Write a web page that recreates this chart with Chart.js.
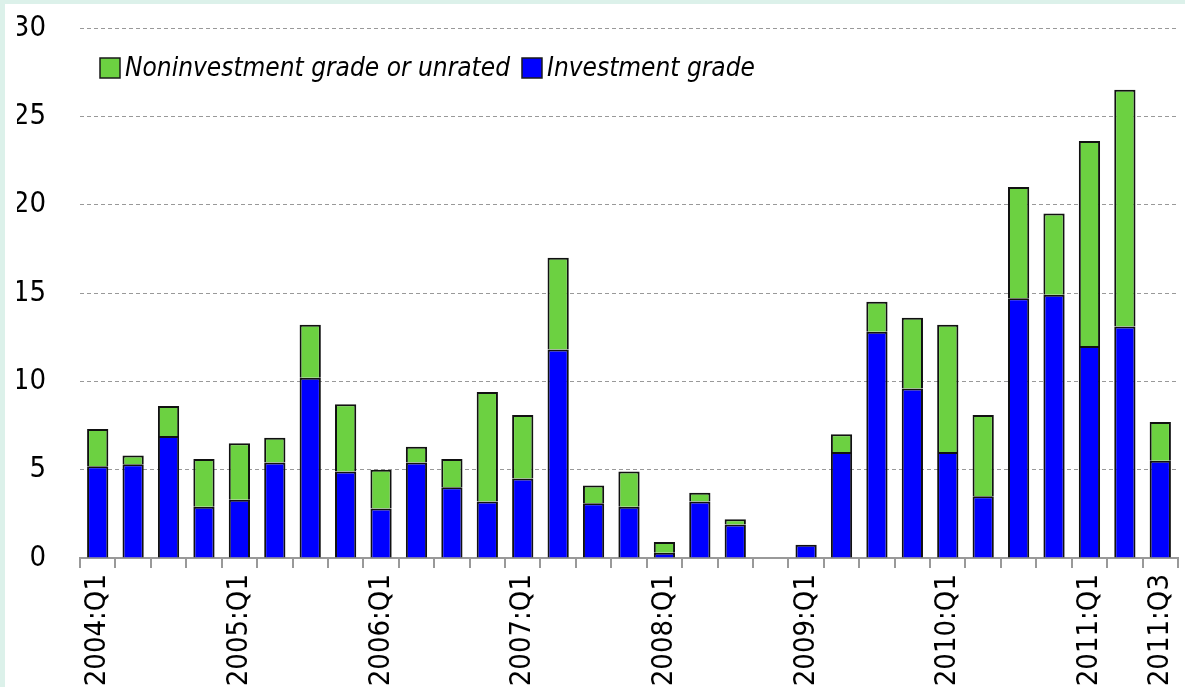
<!DOCTYPE html>
<html>
<head>
<meta charset="utf-8">
<script src="https://cdn.jsdelivr.net/npm/chart.js@4"></script>
<style>
  html, body { margin: 0; padding: 0; background: #dcf1ea; }
  #wrap { position: absolute; left: 5px; top: 4px; width: 1180px; height: 683px; background: #fff; }
</style>
</head>
<body>
<div id="wrap"><canvas id="chart"></canvas></div>
<script>
// quarters 2004:Q1 .. 2011:Q3
const quarters = [
  '2004:Q1','2004:Q2','2004:Q3','2004:Q4',
  '2005:Q1','2005:Q2','2005:Q3','2005:Q4',
  '2006:Q1','2006:Q2','2006:Q3','2006:Q4',
  '2007:Q1','2007:Q2','2007:Q3','2007:Q4',
  '2008:Q1','2008:Q2','2008:Q3','2008:Q4',
  '2009:Q1','2009:Q2','2009:Q3','2009:Q4',
  '2010:Q1','2010:Q2','2010:Q3','2010:Q4',
  '2011:Q1','2011:Q2','2011:Q3'
];
// only these quarters get a label on the x axis
const shownLabels = ['2004:Q1','2005:Q1','2006:Q1','2007:Q1','2008:Q1','2009:Q1','2010:Q1','2011:Q1','2011:Q3'];

const investment = [
  5.2, 5.3, 6.9, 2.9,
  3.3, 5.4, 10.2, 4.9,
  2.8, 5.4, 4.0, 3.2,
  4.5, 11.8, 3.1, 2.9,
  0.3, 3.2, 1.9, null,
  0.75, 6.0, 12.8, 9.6,
  6.0, 3.5, 14.7, 14.9,
  12.0, 13.1, 5.5
];
const noninvestment = [
  2.1, 0.5, 1.7, 2.7,
  3.2, 1.4, 3.0, 3.8,
  2.2, 0.9, 1.6, 6.2,
  3.6, 5.2, 1.0, 2.0,
  0.6, 0.5, 0.3, null,
  null, 1.0, 1.7, 4.0,
  7.2, 4.6, 6.3, 4.6,
  11.6, 13.4, 2.2
];
const yTicks = [0, 5, 10, 15, 20, 25, 30];

const FONT = "'Liberation Sans Narrow', 'DejaVu Sans Condensed', sans-serif";
const BLUE = '#0000ff';
const GREEN = '#6cd141';

// legend drawn inside the plot, green item first
const insideLegend = {
  id: 'insideLegend',
  afterDraw(chart) {
    const ctx = chart.ctx;
    const area = chart.chartArea;
    const items = chart.data.datasets.slice().reverse();
    let x = area.left + 20;
    const y = area.top + 40;
    ctx.save();
    ctx.font = 'italic 26px ' + FONT;
    ctx.textBaseline = 'middle';
    items.forEach(ds => {
      ctx.fillStyle = ds.backgroundColor;
      ctx.fillRect(x, y - 10, 20, 20);
      ctx.lineWidth = 1.5;
      ctx.strokeStyle = '#1a1a1a';
      ctx.strokeRect(x, y - 10, 20, 20);
      ctx.fillStyle = '#000';
      ctx.fillText(ds.label, x + 25, y + 1);
      x += 25 + ctx.measureText(ds.label).width + 12;
    });
    ctx.restore();
  }
};

new Chart(document.getElementById('chart').getContext('2d'), {
  type: 'bar',
  data: {
    labels: quarters,
    datasets: [
      {
        label: 'Investment grade',
        data: investment,
        backgroundColor: BLUE,
        borderColor: '#111',
        borderWidth: 2,
        barPercentage: 0.6,
        categoryPercentage: 1
      },
      {
        label: 'Noninvestment grade or unrated',
        data: noninvestment,
        backgroundColor: GREEN,
        borderColor: '#111',
        borderWidth: 2,
        barPercentage: 0.6,
        categoryPercentage: 1
      }
    ]
  },
  options: {
    responsive: true,
    maintainAspectRatio: false,
    animation: false,
    layout: { padding: { left: 12, right: 7, top: 24, bottom: 0 } },
    plugins: {
      legend: { display: false },
      tooltip: { enabled: false }
    },
    scales: {
      x: {
        stacked: true,
        afterFit: axis => { axis.height = 129; axis.paddingLeft = 0; axis.paddingRight = 0; },
        grid: {
          display: true,
          offset: true,
          drawOnChartArea: false,
          drawTicks: true,
          tickLength: 10,
          color: '#999',
          lineWidth: 2
        },
        border: { display: true, color: '#999', width: 2 },
        ticks: {
          autoSkip: false,
          maxRotation: 90,
          minRotation: 90,
          padding: 6,
          color: '#000',
          font: { family: FONT, size: 29 },
          callback: function(value, index) {
            const lab = quarters[index];
            return shownLabels.includes(lab) ? lab : '';
          }
        }
      },
      y: {
        stacked: true,
        min: yTicks[0],
        max: yTicks[yTicks.length - 1],
        afterBuildTicks: axis => { axis.ticks = yTicks.map(v => ({ value: v })); },
        afterFit: axis => { axis.width = 63; axis.paddingTop = 0; axis.paddingBottom = 0; },
        grid: { color: '#999', lineWidth: 1, drawTicks: false },
        border: { display: false, dash: [4, 3] },
        ticks: {
          padding: 34,
          color: '#000',
          font: { family: FONT, size: 29 }
        }
      }
    }
  },
  plugins: [insideLegend]
});
</script>
</body>
</html>
